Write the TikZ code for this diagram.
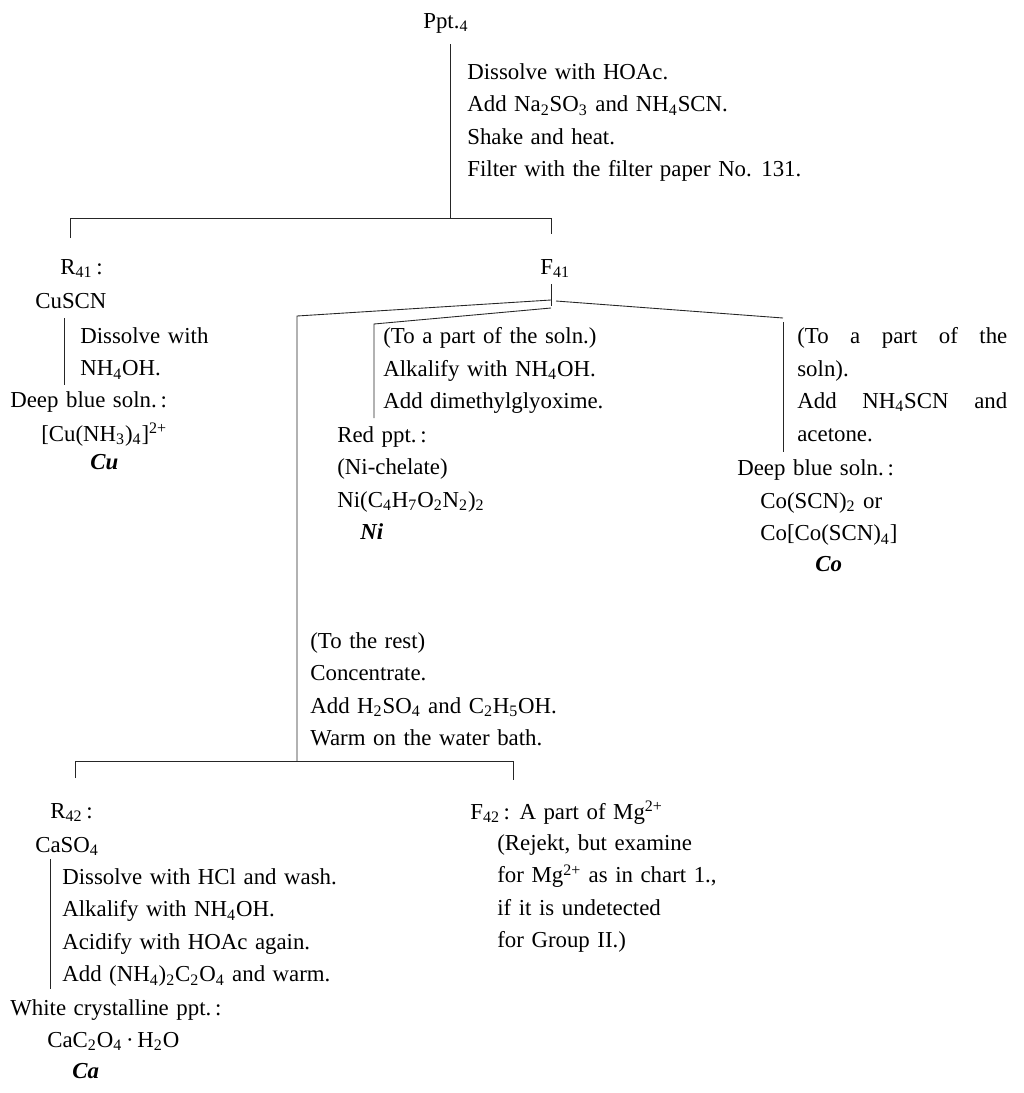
\documentclass[tikz,border=0pt]{standalone}
\usepackage{fontspec}
\setmainfont{Liberation Serif}
\usetikzlibrary{positioning}
\newcommand{\chartfont}{\fontsize{13pt}{18.55pt}\selectfont\spaceskip=4.3pt plus 1.5pt minus 1pt\relax}
\newcommand{\chemsub}[1]{\textsubscript{#1}}
\newcommand{\chemsup}[1]{\textsuperscript{#1}}
\newcommand{\cowidth}{4.2cm}
\tikzset{
    txt/.style={anchor=north west, inner sep=0pt, align=left, font=\chartfont}, % text blocks
    tag/.style={txt, font=\chartfont\bfseries\itshape}, % element found
    bar/.style={line width=0.5pt, black!85}, % flow lines
}

\begin{document}
\begin{tikzpicture}[x=0.02cm, y=-0.02cm]
    \useasboundingbox (0,0) rectangle (1024,1093);

    % --- Ppt.4 ---
    \node[txt] (ppt) at (423,13) {Ppt.\chemsub{4}};
    \node[txt] (stepsA) at (467,63) {Dissolve with HOAc.\\
        Add Na\chemsub{2}SO\chemsub{3} and NH\chemsub{4}SCN.\\
        Shake and heat.\\
        Filter with the filter paper No. 131.};

    % --- R41 / F41 ---
    \node[txt] (r41) at (60,259) {R\chemsub{41}\,:};
    \node[txt] (f41) at (540,259) {F\chemsub{41}};

    % Cu branch
    \node[txt] (cuscn) at (35,293) {CuSCN};
    \node[txt] (stepsCu) at (80,327) {Dissolve with\\NH\chemsub{4}OH.};
    \node[txt] (cuSoln) at (10,391) {Deep blue soln.\,:};
    \node[txt] (cuIon) at (41,423) {[Cu(NH\chemsub{3})\chemsub{4}]\chemsup{2+}};
    \node[tag] (cuTag) at (90,454) {Cu};

    % Ni branch
    \node[txt] (stepsNi) at (383,327) {(To a part of the soln.)\\
        Alkalify with NH\chemsub{4}OH.\\
        Add dimethylglyoxime.};
    \node[txt] (niPpt) at (337,426) {Red ppt.\,:\\(Ni-chelate)\\Ni(C\chemsub{4}H\chemsub{7}O\chemsub{2}N\chemsub{2})\chemsub{2}};
    \node[tag] (niTag) at (360,523) {Ni};

    % Co branch
    \node[txt] (stepsCo) at (797,327) {\makebox[\cowidth][s]{(To a part of the}\\
        soln).\\
        \makebox[\cowidth][s]{Add NH\chemsub{4}SCN and}\\
        acetone.};
    \node[txt] (coSoln) at (737,459) {Deep blue soln.\,:};
    \node[txt] (coForm) at (760,492) {Co(SCN)\chemsub{2} or\\Co[Co(SCN)\chemsub{4}]};
    \node[tag] (coTag) at (815,556) {Co};

    % rest of F41
    \node[txt] (stepsRest) at (310,632) {(To the rest)\\
        Concentrate.\\
        Add H\chemsub{2}SO\chemsub{4} and C\chemsub{2}H\chemsub{5}OH.\\
        Warm on the water bath.};

    % --- R42 / F42 ---
    \node[txt] (r42) at (50,803) {R\chemsub{42}\,:};
    \node[txt] (f42) at (470,801) {F\chemsub{42}\,: A part of Mg\chemsup{2+}};
    \node[txt] (f42Note) at (497,834) {(Rejekt, but examine\\
        for Mg\chemsup{2+} as in chart 1.,\\
        if it is undetected\\
        for Group II.)};

    % Ca branch
    \node[txt] (caso4) at (35,837) {CaSO\chemsub{4}};
    \node[txt] (stepsCa) at (62,868) {Dissolve with HCl and wash.\\
        Alkalify with NH\chemsub{4}OH.\\
        Acidify with HOAc again.\\
        Add (NH\chemsub{4})\chemsub{2}C\chemsub{2}O\chemsub{4} and warm.};
    \node[txt] (caPpt) at (10,999) {White crystalline ppt.\,:};
    \node[txt] (caForm) at (47,1032) {CaC\chemsub{2}O\chemsub{4}\,·\,H\chemsub{2}O};
    \node[tag] (caTag) at (72,1063) {Ca};

    % --- Lines ---
    \coordinate (pptTop) at (450,44);
    \coordinate (b1L) at (70,218);
    \coordinate (b1M) at (450,218);
    \coordinate (b1R) at (551,218);
    \coordinate (f41Top) at (551,284);
    \coordinate (f41Bot) at (551,306);
    \coordinate (restTop) at (297,316);
    \coordinate (niTop) at (374,324);
    \coordinate (niBot) at (374,418);
    \coordinate (coTop) at (783,318);
    \coordinate (coBot) at (783,452);
    \coordinate (b2L) at (75,761);
    \coordinate (b2M) at (297,761);
    \coordinate (b2R) at (513,761);
    \coordinate (cuTop) at (64,318);
    \coordinate (cuBot) at (64,385);
    \coordinate (caTop) at (50,859);
    \coordinate (caBot) at (50,989);

    \draw[bar] (pptTop) -- (b1M);
    \draw[bar] (b1L) ++(0,20) -- (b1L) -- (b1R) -- ++(0,16);
    \draw[bar] (cuTop) -- (cuBot);
    \draw[bar] (f41Top) -- (f41Bot);
    \draw[bar] (551,300) -- (restTop) -- (b2M);
    \draw[bar] (551,308) -- (niTop) -- (niBot);
    \draw[bar] (556,301) -- (coTop);
    \draw[bar] (coTop) ++(0,4) -- (coBot);
    \draw[bar] (b2L) ++(0,17) -- (b2L) -- (b2R) -- ++(0,19);
    \draw[bar] (caTop) -- (caBot);

\end{tikzpicture}
\end{document}
